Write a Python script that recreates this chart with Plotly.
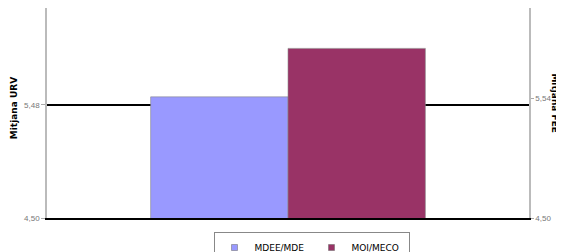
import plotly.graph_objects as go

categories = [""]
series_names = ["MDEE/MDE", "MOI/MECO"]
series_values = [[5.55], [5.97]]
series_colors = ["#9999FF", "#993366"]
left_ticks = [4.50, 5.48]
right_ticks = [4.50, 5.54]
mean_urv = 5.48
y_range = [4.5, 6.32]

W, H = 556, 244

fig = go.Figure()
for name, vals, col in zip(series_names, series_values, series_colors):
    fig.add_trace(go.Bar(x=categories, y=vals, name=name, showlegend=False,
                         marker=dict(color=col, line=dict(color="#8a8a8a", width=0.6)),
                         yaxis="y"))
# legend entries (small square swatches)
for name, col in zip(series_names, series_colors):
    fig.add_trace(go.Scatter(x=categories, y=[None], name=name, mode="markers",
                             marker=dict(symbol="square", size=6, color=col,
                                         line=dict(color="#666666", width=0.5)),
                             yaxis="y", hoverinfo="skip"))
# invisible trace to activate right axis
fig.add_trace(go.Scatter(x=categories, y=[None], yaxis="y2", showlegend=False,
                         hoverinfo="skip"))

fig.add_shape(type="line", xref="paper", yref="y", x0=0, x1=1, y0=mean_urv, y1=mean_urv,
              line=dict(color="black", width=2), layer="below")

gray = "#777777"
tickfont = dict(family="Liberation Sans", size=8, color=gray)
fig.update_layout(
    width=W, height=H,
    margin=dict(l=39, r=35, t=0, b=34, autoexpand=False),
    paper_bgcolor="white", plot_bgcolor="white",
    separators=",.",
    font=dict(family="DejaVu Sans", size=9, color="black"),
    barmode="group", bargap=0.43, bargroupgap=0,
    xaxis=dict(showticklabels=False, showgrid=False, zeroline=False, automargin=False,
               showline=True, linecolor="black", linewidth=1.5, ticks=""),
    yaxis=dict(range=y_range, tickvals=left_ticks, tickformat=".2f", automargin=False,
               showgrid=False, zeroline=False, showline=True, linecolor="#bbbbbb",
               linewidth=1.5, ticks="outside", ticklen=4, tickcolor="#aaaaaa",
               tickfont=tickfont),
    yaxis2=dict(range=y_range, tickvals=right_ticks, tickformat=".2f", overlaying="y",
                side="right", showgrid=False, zeroline=False, showline=True, automargin=False,
                linecolor="#bbbbbb", linewidth=1.5, ticks="outside", ticklen=3,
                tickcolor="#aaaaaa", tickfont=tickfont),
    legend=dict(orientation="h", xref="container", yref="container",
                x=303.5 / W, xanchor="center", y=1 - 224 / H, yanchor="top",
                bordercolor="#888888", borderwidth=1,
                font=dict(family="DejaVu Sans", size=9, color="black"),
                itemwidth=30, entrywidth=52, traceorder="normal", tracegroupgap=0),
    annotations=[
        dict(text="<b>Mitjana URV</b>", xref="paper", yref="paper", x=-0.068, y=0.524,
             textangle=-90, showarrow=False, font=dict(size=9, color="black"),
             xanchor="center", yanchor="middle"),
        dict(text="<b>Mitjana FEE</b>", xref="paper", yref="paper", x=1.055, y=0.548,
             textangle=90, showarrow=False, font=dict(size=9, color="black"),
             xanchor="center", yanchor="middle"),
    ],
)

fig.write_html("out.html")
